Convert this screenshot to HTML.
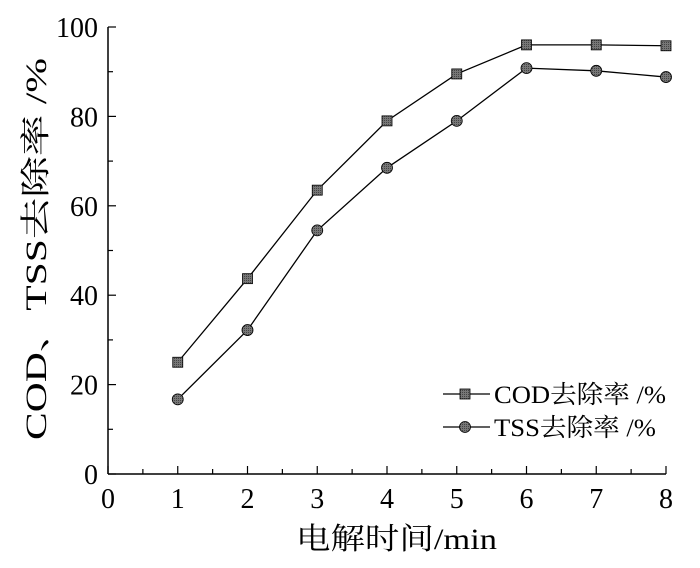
<!DOCTYPE html>
<html><head><meta charset="utf-8"><style>
body{margin:0;background:#fff}
svg text{font-family:"Liberation Serif","Noto Serif CJK SC",serif;fill:#000}
</style></head><body>
<svg width="700" height="563" viewBox="0 0 700 563">
<defs>
<pattern id="hatch" width="2" height="2" patternUnits="userSpaceOnUse"><rect width="2" height="2" fill="#777"/><rect width="1" height="1" fill="#444"/></pattern>
</defs>
<g id="axes"></g>
<g id="series"></g>
<g id="legend">
<g>
<line x1="443" y1="394" x2="490" y2="394" stroke="#000" stroke-width="1.3"/>
<rect x="460" y="389" width="10" height="10" fill="url(#hatch)" stroke="#000" stroke-width="0.8"/>
<text x="494" y="403" font-size="25" textLength="172" lengthAdjust="spacingAndGlyphs">COD去除率 /%</text>
</g>
<g>
<line x1="443" y1="427" x2="490" y2="427" stroke="#000" stroke-width="1.3"/>
<circle cx="465" cy="427" r="5.5" fill="url(#hatch)" stroke="#000" stroke-width="0.8"/>
<text x="494" y="436" font-size="25" textLength="162" lengthAdjust="spacingAndGlyphs">TSS去除率 /%</text>
</g>
</g>
<text x="296" y="549" font-size="30" textLength="201" lengthAdjust="spacingAndGlyphs">电解时间/min</text>
<text transform="translate(46,440) rotate(-90)" font-size="30" textLength="382" lengthAdjust="spacingAndGlyphs">COD、TSS去除率 /%</text>
</svg>
<script>
const categories=[1,2,3,4,5,6,7,8];
const codValues=[25,43.7,63.5,79,89.5,96,96,95.8];
const tssValues=[16.7,32.2,54.5,68.5,79,90.8,90.2,88.8];
const xTicks=[0,1,2,3,4,5,6,7,8];
const yTicks=[0,20,40,60,80,100];
const NS="http://www.w3.org/2000/svg";
const X0=108,X1=666,Y0=474,Y1=27;
const xs=v=>X0+(v/8)*(X1-X0);
const ys=v=>Y0-(v/100)*(Y0-Y1);
function mk(tag,attrs,parent){const e=document.createElementNS(NS,tag);for(const k in attrs)e.setAttribute(k,attrs[k]);parent.appendChild(e);return e;}
const ax=document.getElementById('axes');
let l=mk('line',{x1:X0,y1:Y0,x2:X1,y2:Y0,stroke:'#000','stroke-width':1.5},ax);


l=mk('line',{x1:X0,y1:Y0,x2:X0,y2:Y1,stroke:'#000','stroke-width':1.5},ax);


for(let v=0;v<=8;v+=0.5){const maj=v%1===0;mk('line',{x1:xs(v),y1:Y0,x2:xs(v),y2:Y0-(maj?8:5),stroke:'#000','stroke-width':1.2},ax);}
for(let v=0;v<=100;v+=10){const maj=v%20===0;mk('line',{x1:X0,y1:ys(v),x2:X0+(maj?8:5),y2:ys(v),stroke:'#000','stroke-width':1.2},ax);}
xTicks.forEach(v=>{const t=mk('text',{x:xs(v),y:Y0+34,'font-size':28,'text-anchor':'middle'},ax);t.textContent=v;

});
yTicks.forEach(v=>{const t=mk('text',{x:X0-10,y:ys(v)+10,'font-size':28,'text-anchor':'end'},ax);t.textContent=v;

});
const sg=document.getElementById('series');
function series(vals,name,shape){
  const g=mk('g',{},sg);
  
  
  mk('polyline',{points:categories.map((c,i)=>xs(c)+','+ys(vals[i])).join(' '),fill:'none',stroke:'#000','stroke-width':1.3},g);
  categories.forEach((c,i)=>{let m;
    if(shape==='sq')m=mk('rect',{x:xs(c)-5,y:ys(vals[i])-5,width:10,height:10,fill:'url(#hatch)',stroke:'#000','stroke-width':0.8},g);
    else m=mk('circle',{cx:xs(c),cy:ys(vals[i]),r:5.5,fill:'url(#hatch)',stroke:'#000','stroke-width':0.8},g);
    
    });
}
series(codValues,'cod-series','sq');
series(tssValues,'tss-series','circ');
</script>
</body></html>
